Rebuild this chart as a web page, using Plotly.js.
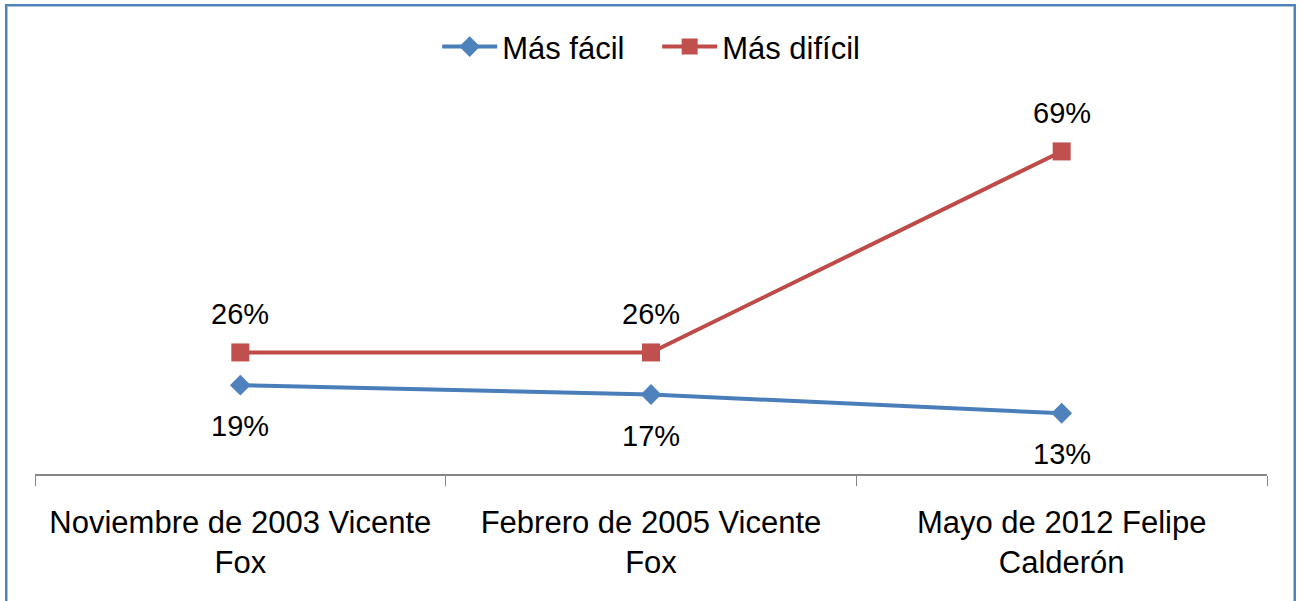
<!DOCTYPE html>
<html>
<head>
<meta charset="utf-8">
<script src="https://cdn.plot.ly/plotly-3.0.1.min.js"></script>
<style>
  html, body { margin: 0; padding: 0; background: #fff; }
  #wrap { position: relative; width: 1302px; height: 601px; overflow: hidden; }
  #chart { width: 1302px; height: 601px; }
  #frame { position: absolute; left: 5px; top: 4px; width: 1287px; height: 640px;
           border: 2px solid #4f81bd; box-shadow: inset 0 0 0 1px #a7c0e0; pointer-events: none; }
</style>
</head>
<body>
<div id="wrap">
  <div id="chart"></div>
  <div id="frame"></div>
</div>
<script>
const categories = ["Noviembre de 2003 Vicente Fox", "Febrero de 2005 Vicente Fox", "Mayo de 2012 Felipe Calderón"];
const tickLabels = ["Noviembre de 2003 Vicente<br>Fox", "Febrero de 2005 Vicente<br>Fox", "Mayo de 2012 Felipe<br>Calderón"];
const masFacil = [19, 17, 13];
const masDificil = [26, 26, 69];

const FONT = "Liberation Sans, Arial, sans-serif";

const traces = [
  {
    x: categories, y: masFacil, name: "Más fácil", type: "scatter", mode: "lines+markers",
    line: { color: "#4a7ebb", width: 4 },
    marker: { symbol: "diamond", size: 16, color: "#4f81bd" }
  },
  {
    x: categories, y: masDificil, name: "Más difícil", type: "scatter", mode: "lines+markers",
    line: { color: "#be4b48", width: 4 },
    marker: { symbol: "square", size: 18, color: "#c0504d" }
  }
];

const annotations = [];
categories.forEach((c, i) => {
  annotations.push({ x: c, y: masDificil[i], xref: "x", yref: "y", text: masDificil[i] + "%",
    showarrow: false, yshift: 38, font: { family: FONT, size: 29, color: "#000" } });
  annotations.push({ x: c, y: masFacil[i], xref: "x", yref: "y", text: masFacil[i] + "%",
    showarrow: false, yshift: -41, font: { family: FONT, size: 29, color: "#000" } });
});

const layout = {
  width: 1302, height: 601,
  margin: { l: 35, r: 35, t: 100, b: 127 },
  paper_bgcolor: "#fff", plot_bgcolor: "#fff",
  font: { family: FONT, size: 30, color: "#000" },
  showlegend: true,
  legend: { orientation: "h", x: 0.505, xanchor: "center", y: 1.142, yanchor: "middle",
            font: { family: FONT, size: 31, color: "#000" }, itemwidth: 55,
            entrywidth: 150, entrywidthmode: "pixels", tracegroupgap: 0 },
  xaxis: {
    type: "category", tickvals: categories, ticktext: tickLabels,
    range: [-0.5, 2.5], tickson: "boundaries", ticks: "outside", ticklen: 10, tickcolor: "#868686",
    showline: true, linecolor: "#868686", linewidth: 1.5, showgrid: false, zeroline: false,
    tickfont: { family: FONT, size: 31, color: "#000" }, ticklabelstandoff: 20, fixedrange: true
  },
  yaxis: {
    range: [0, 80], visible: false, showgrid: false, zeroline: false, fixedrange: true
  },
  annotations: annotations
};

Plotly.newPlot("chart", traces, layout, { displayModeBar: false, staticPlot: true });
</script>
</body>
</html>
